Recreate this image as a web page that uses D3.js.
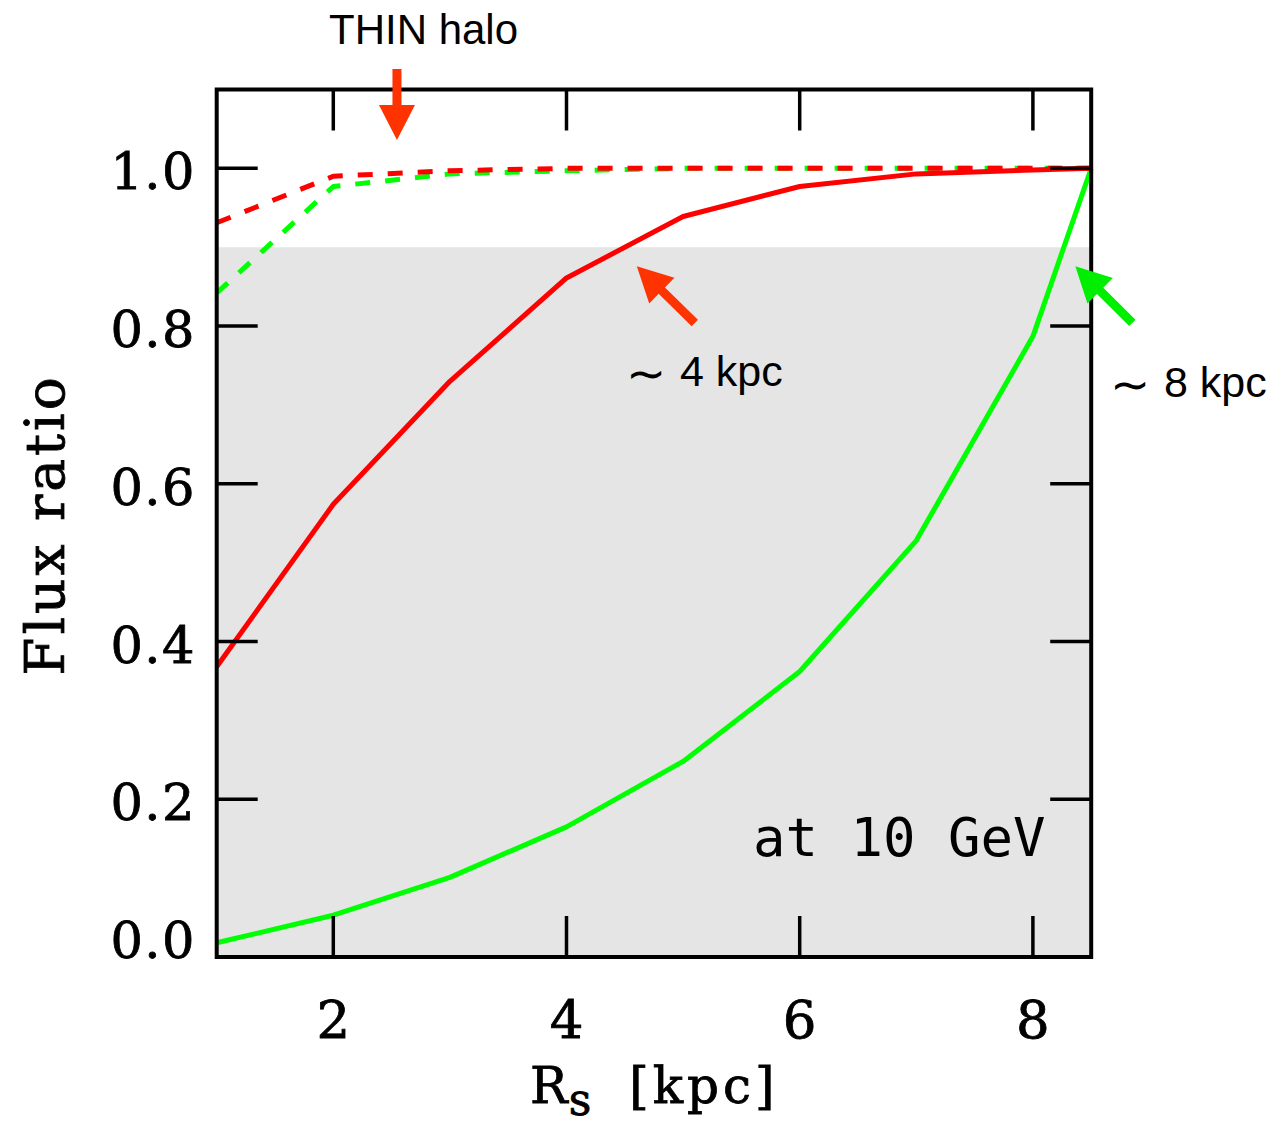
<!DOCTYPE html>
<html>
<head>
<meta charset="utf-8">
<script src="https://cdn.jsdelivr.net/npm/d3@7"></script>
<style>
  html, body { margin: 0; padding: 0; background: #fff; }
  svg { display: block; }
</style>
</head>
<body>
<script>
// ---- data ----
const rs = [1, 2, 3, 4, 5, 6, 7, 8, 8.5];
const redSolid   = [0.368, 0.574, 0.730, 0.861, 0.939, 0.977, 0.993, 0.998, 1.0];
const greenSolid = [0.018, 0.053, 0.101, 0.165, 0.248, 0.362, 0.528, 0.787, 1.0];
const redDashed  = [0.931, 0.990, 0.997, 1.0, 1.0, 1.0, 1.0, 1.0, 1.0];
const greenDashed= [0.842, 0.977, 0.993, 0.997, 1.0, 1.0, 1.0, 1.0, 1.0];
const xTicks = [2, 4, 6, 8];
const yTicks = [0.0, 0.2, 0.4, 0.6, 0.8, 1.0];
const bandFrom = 0.0, bandTo = 0.9;

const W = 1271, H = 1124;
const L = 216.7, R = 1091.2, T = 89.5, B = 957;

const svg = d3.select("body").append("svg").attr("width", W).attr("height", H);

const x = d3.scaleLinear().domain([1, 8.5]).range([L, R]);
const y = d3.scaleLinear().domain([0, 1.1]).range([B, T]);

// gray band
svg.append("rect")
  .attr("x", x(1)).attr("width", x(8.5) - x(1))
  .attr("y", y(bandTo)).attr("height", y(bandFrom) - y(bandTo))
  .attr("fill", "#e5e5e5");

const line = d3.line().x((d, i) => x(rs[i])).y(d => y(d));

function drawLine(vals, color, dashed) {
  svg.append("path").datum(vals)
    .attr("d", line)
    .attr("fill", "none")
    .attr("stroke", color)
    .attr("stroke-width", 5)
    .attr("stroke-linejoin", "round")
    .attr("stroke-dasharray", dashed ? "15,15" : null);
}
drawLine(greenDashed, "#00ff00", true);
drawLine(redDashed, "#ff0000", true);
drawLine(greenSolid, "#00ff00", false);
drawLine(redSolid, "#ff0000", false);

// frame & ticks
const ax = svg.append("g").attr("stroke", "#000");
ax.append("rect").attr("x", L).attr("y", T).attr("width", R - L).attr("height", B - T)
  .attr("fill", "none").attr("stroke-width", 4);
const tl = 41;
xTicks.forEach(v => {
  ax.append("line").attr("x1", x(v)).attr("x2", x(v)).attr("y1", B).attr("y2", B - tl).attr("stroke-width", 3.5);
  ax.append("line").attr("x1", x(v)).attr("x2", x(v)).attr("y1", T).attr("y2", T + tl).attr("stroke-width", 3.5);
});
yTicks.forEach(v => {
  ax.append("line").attr("x1", L).attr("x2", L + tl).attr("y1", y(v)).attr("y2", y(v)).attr("stroke-width", 3.5);
  ax.append("line").attr("x1", R).attr("x2", R - tl).attr("y1", y(v)).attr("y2", y(v)).attr("stroke-width", 3.5);
});

const serif = "'DejaVu Serif', serif";
// tick labels
svg.append("g").selectAll("text").data(yTicks).join("text")
  .attr("x", 196).attr("y", d => Math.min(y(d) + 21, B + 1))
  .attr("text-anchor", "end")
  .attr("font-family", serif).attr("font-size", 51)
  .attr("letter-spacing", 1.5)
  .attr("stroke", "#000").attr("stroke-width", 0.8)
  .text(d => d.toFixed(1));
svg.append("g").selectAll("text").data(xTicks).join("text")
  .attr("x", d => x(d)).attr("y", 1038)
  .attr("text-anchor", "middle")
  .attr("font-family", serif).attr("font-size", 53)
  .attr("stroke", "#000").attr("stroke-width", 0.8)
  .text(d => d);

// axis titles
svg.append("text")
  .attr("transform", `translate(64,${525}) rotate(-90)`)
  .attr("text-anchor", "middle")
  .attr("font-family", serif).attr("font-size", 55)
  .attr("letter-spacing", 3)
  .attr("stroke", "#000").attr("stroke-width", 0.8)
  .text("Flux ratio");
const xt = svg.append("text")
  .attr("x", 530).attr("y", 1103)
  .attr("font-family", serif).attr("font-size", 50)
  .attr("letter-spacing", 4)
  .attr("stroke", "#000").attr("stroke-width", 0.8);
xt.append("tspan").text("R");
xt.append("tspan").attr("dy", 12).attr("dx", -3).attr("font-size", 44).text("s");
xt.append("tspan").attr("dy", -12).attr("dx", 34).text("[kpc]");

svg.append("text")
  .attr("x", 753).attr("y", 856)
  .attr("font-family", "'DejaVu Sans Mono', monospace").attr("font-size", 54)
  .text("at 10 GeV");

// annotation arrows
function arrow(x0, y0, x1, y1, color) {
  const px0 = x(x0), py0 = y(y0), px1 = x(x1), py1 = y(y1);
  const dx = px1 - px0, dy = py1 - py0, len = Math.hypot(dx, dy);
  const ux = dx / len, uy = dy / len, nx = -uy, ny = ux;
  const hl = 35, hw = 18, sw = 4.5;
  const bx = px1 - ux * hl, by = py1 - uy * hl;
  const pts = [
    [px0 + nx * sw, py0 + ny * sw],
    [bx + nx * sw, by + ny * sw],
    [bx + nx * hw, by + ny * hw],
    [px1, py1],
    [bx - nx * hw, by - ny * hw],
    [bx - nx * sw, by - ny * sw],
    [px0 - nx * sw, py0 - ny * sw]
  ];
  svg.append("polygon").attr("points", pts.map(p => p.join(",")).join(" ")).attr("fill", color);
}
arrow(2.546, 1.126, 2.546, 1.036, "#ff3300");
arrow(5.10, 0.804, 4.603, 0.876, "#ff3300");
arrow(8.853, 0.804, 8.364, 0.876, "#00ee00");

const sans = "'Liberation Sans', Arial, sans-serif";
svg.append("text").attr("x", 329).attr("y", 44)
  .attr("font-family", sans).attr("font-size", 42).text("THIN halo");
function approxLabel(px, py, txt) {
  const t = svg.append("text").attr("x", px).attr("y", py)
    .attr("font-family", sans).attr("font-size", 42);
  t.append("tspan").attr("font-size", 48).attr("dy", 4).text("∼");
  t.append("tspan").attr("dx", 14).attr("dy", -4).attr("font-size", 43).text(txt);
}
approxLabel(626, 386, "4 kpc");
approxLabel(1110, 397, "8 kpc");
</script>
</body>
</html>
